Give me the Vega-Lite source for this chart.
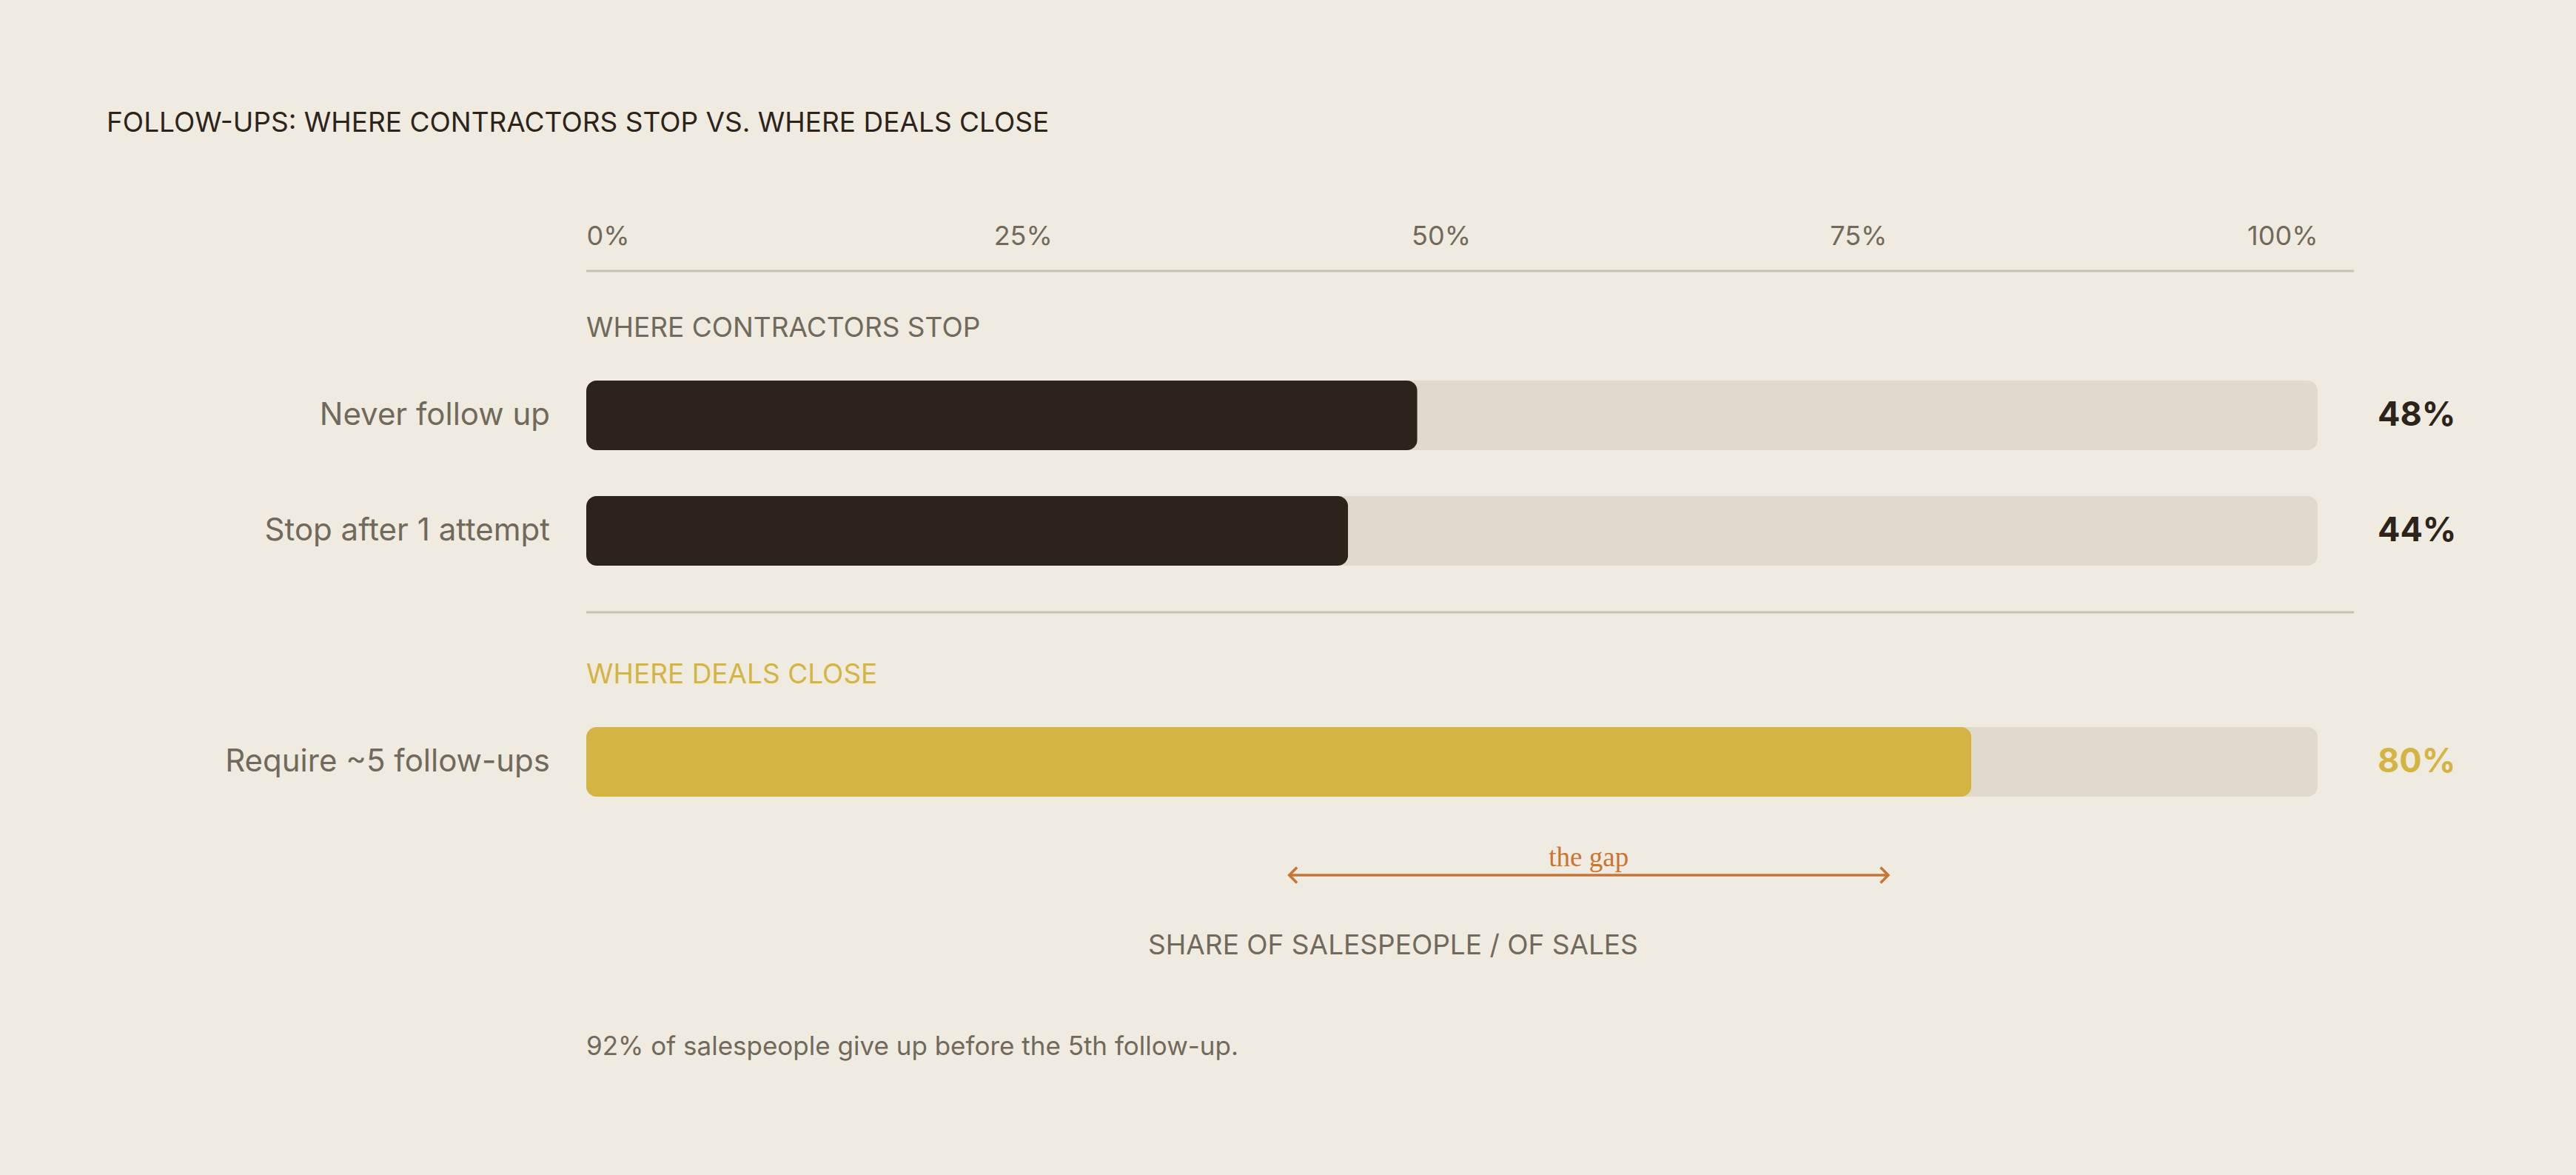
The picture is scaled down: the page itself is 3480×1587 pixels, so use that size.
{
  "$schema": "https://vega.github.io/schema/vega-lite/v6.json",
  "width": 2339,
  "height": 1092,
  "autosize": {"type": "none"},
  "padding": {"left": 792, "top": 346.5, "right": 349, "bottom": 148.5},
  "background": "#f0ebe1",
  "config": {
    "view": {"stroke": null},
    "font": "Inter",
    "text": {"font": "Inter"}
  },
  "title": {
    "text": "FOLLOW-UPS: WHERE CONTRACTORS STOP VS. WHERE DEALS CLOSE",
    "anchor": "start",
    "frame": "group",
    "dx": -648,
    "offset": 87,
    "baseline": "alphabetic",
    "font": "Inter",
    "fontSize": 37,
    "fontWeight": "normal",
    "color": "#2c241a"
  },
  "datasets": {
    "bars": [
      {"row": "Never follow up", "value": 0.48, "group": "stop"},
      {"row": "Stop after 1 attempt", "value": 0.44, "group": "stop"},
      {"row": "Require ~5 follow-ups", "value": 0.8, "group": "close"}
    ],
    "sections": [
      {"row": "WHERE CONTRACTORS STOP", "group": "stop"},
      {"row": "WHERE DEALS CLOSE", "group": "close"}
    ],
    "gap": [{"row": "the gap", "from": 0.406, "to": 0.752}],
    "arrowheads": [
      {"row": "the gap", "at": 0.406, "end": "left"},
      {"row": "the gap", "at": 0.752, "end": "right"}
    ],
    "notes": [
      {"row": "SHARE OF SALESPEOPLE / OF SALES", "kind": "axis title"},
      {"row": "92% of salespeople give up before the 5th follow-up.", "kind": "note"}
    ]
  },
  "encoding": {
    "y": {
      "field": "row",
      "type": "nominal",
      "axis": null,
      "scale": {
        "paddingInner": 0,
        "paddingOuter": 0,
        "domain": [
          "axis", "_1",
          "WHERE CONTRACTORS STOP", "_3", "_4",
          "Never follow up", "_6", "_7", "_8",
          "Stop after 1 attempt", "_10", "_11",
          "divider", "_13",
          "WHERE DEALS CLOSE", "_15", "_16",
          "Require ~5 follow-ups", "_18", "_19", "_20",
          "the gap", "_22",
          "SHARE OF SALESPEOPLE / OF SALES", "_24", "_25", "_26",
          "92% of salespeople give up before the 5th follow-up."
        ]
      }
    }
  },
  "layer": [
    {
      "data": {"values": [{}]},
      "mark": {"type": "rule", "color": "#c9c1b3", "strokeWidth": 3},
      "encoding": {
        "y": {"datum": "axis"},
        "x": {"datum": 0, "type": "quantitative"},
        "x2": {"datum": 1.021}
      }
    },
    {
      "data": {"values": [{}]},
      "mark": {"type": "rule", "color": "#c9c1b3", "strokeWidth": 3, "yOffset": -7},
      "encoding": {
        "y": {"datum": "divider"},
        "x": {"datum": 0, "type": "quantitative"},
        "x2": {"datum": 1.021}
      }
    },
    {
      "data": {"name": "bars"},
      "mark": {"type": "bar", "height": 94, "cornerRadius": 14, "color": "#e0d9cd"},
      "encoding": {
        "x": {"datum": 0, "type": "quantitative"},
        "x2": {"datum": 1}
      }
    },
    {
      "data": {"name": "bars"},
      "mark": {"type": "bar", "height": 94, "cornerRadius": 14},
      "encoding": {
        "x": {
          "field": "value",
          "type": "quantitative",
          "scale": {"domain": [0, 1], "nice": false},
          "axis": {
            "orient": "top",
            "values": [0, 0.25, 0.5, 0.75, 1],
            "format": ".0%",
            "title": null,
            "domain": false,
            "ticks": false,
            "grid": false,
            "labelFlush": true,
            "labelPadding": 16,
            "labelBaseline": "alphabetic",
            "labelFont": "Inter",
            "labelFontSize": 36,
            "labelColor": "#6f6a5c",
            "labelOffset": {
              "condition": [
                {"test": "datum.value == 0.25", "value": 5},
                {"test": "datum.value == 0.5", "value": -15},
                {"test": "datum.value == 0.75", "value": -36}
              ],
              "value": 0
            }
          }
        },
        "color": {
          "field": "group",
          "type": "nominal",
          "scale": {"domain": ["stop", "close"], "range": ["#2c241a", "#d4b443"]},
          "legend": null
        }
      }
    },
    {
      "data": {"name": "bars"},
      "mark": {"type": "text", "align": "right", "baseline": "middle", "dx": -49, "fontSize": 42, "color": "#6f6a5c"},
      "encoding": {
        "x": {"datum": 0, "type": "quantitative"},
        "text": {"field": "row"}
      }
    },
    {
      "data": {"name": "bars"},
      "mark": {"type": "text", "align": "left", "baseline": "middle", "dx": 81, "fontSize": 45, "fontWeight": "bold"},
      "encoding": {
        "x": {"datum": 1, "type": "quantitative"},
        "text": {"field": "value", "type": "quantitative", "format": ".0%"},
        "color": {"field": "group", "type": "nominal", "legend": null}
      }
    },
    {
      "data": {"name": "sections"},
      "mark": {"type": "text", "align": "left", "baseline": "middle", "fontSize": 37},
      "encoding": {
        "x": {"datum": 0, "type": "quantitative"},
        "text": {"field": "row"},
        "color": {
          "condition": {"test": "datum.group == 'close'", "value": "#d4b443"},
          "value": "#6f6a5c"
        }
      }
    },
    {
      "data": {"name": "gap"},
      "mark": {"type": "rule", "color": "#c87533", "strokeWidth": 3.5, "yOffset": -3},
      "encoding": {
        "x": {"field": "from", "type": "quantitative"},
        "x2": {"field": "to"}
      }
    },
    {
      "data": {"name": "arrowheads"},
      "mark": {"type": "point", "filled": false, "size": 441, "strokeWidth": 3.5, "color": "#c87533", "yOffset": -3, "opacity": 1},
      "encoding": {
        "x": {"field": "at", "type": "quantitative"},
        "shape": {
          "field": "end",
          "type": "nominal",
          "scale": {"domain": ["left", "right"], "range": ["M1,-1L0,0L1,1", "M-1,-1L0,0L-1,1"]},
          "legend": null
        }
      }
    },
    {
      "data": {"name": "gap"},
      "mark": {"type": "text", "align": "center", "baseline": "alphabetic", "dy": -15, "font": "Liberation Serif", "fontSize": 37, "color": "#c87533"},
      "encoding": {
        "x": {"datum": 0.579, "type": "quantitative"},
        "text": {"field": "row"}
      }
    },
    {
      "data": {"name": "notes"},
      "transform": [{"filter": "datum.kind == 'axis title'"}],
      "mark": {"type": "text", "align": "center", "baseline": "middle", "dy": 15, "fontSize": 37, "color": "#6f6a5c"},
      "encoding": {
        "x": {"datum": 0.466, "type": "quantitative"},
        "text": {"field": "row"}
      }
    },
    {
      "data": {"name": "notes"},
      "transform": [{"filter": "datum.kind == 'note'"}],
      "mark": {"type": "text", "align": "left", "baseline": "middle", "dy": -5, "fontSize": 35, "color": "#6f6a5c"},
      "encoding": {
        "x": {"datum": 0, "type": "quantitative"},
        "text": {"field": "row"}
      }
    }
  ]
}
